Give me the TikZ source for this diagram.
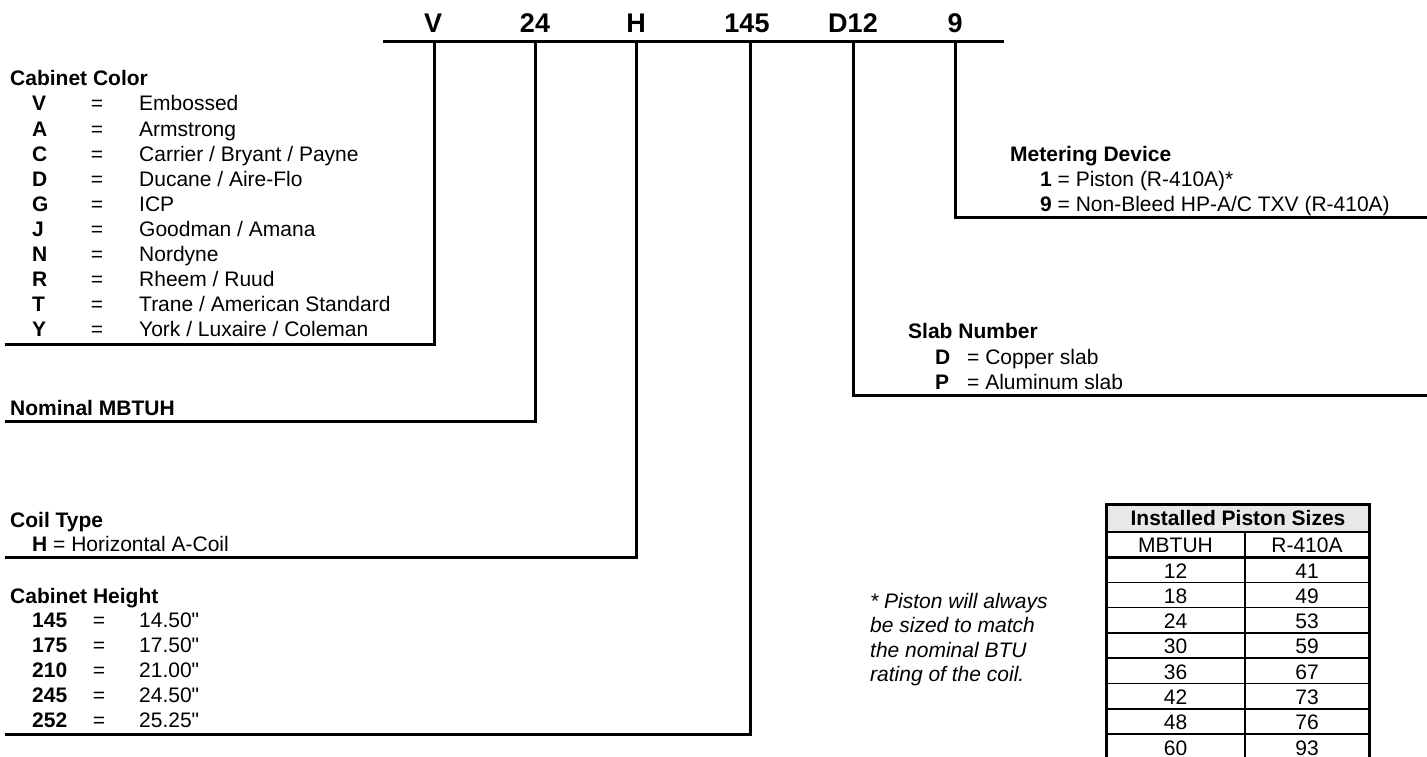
\documentclass[tikz,border=0pt]{standalone}
\usepackage{fontspec}
\setmainfont{Liberation Sans}[Ligatures=TeXOff]
\begin{document}
\begin{tikzpicture}[x=1pt,y=-1pt,
  txt/.style={inner sep=0, anchor=base west, font=\fontsize{21}{25}\selectfont},
  codetxt/.style={txt, font=\fontsize{21}{25}\selectfont\bfseries},
  eqtxt/.style={inner sep=0, anchor=base, font=\fontsize{21}{25}\selectfont},
  toplabel/.style={inner sep=0, anchor=base, font=\fontsize{27}{32}\selectfont\bfseries},
  notetxt/.style={txt, font=\fontsize{21}{25}\selectfont\itshape},
  cell/.style={inner sep=0, anchor=base, font=\fontsize{21}{25}\selectfont},
  rule/.style={line width=3pt},
  thinrule/.style={line width=1.5pt}]
\path[use as bounding box] (0,0) rectangle (1427,757);
\clip (0,0) rectangle (1427,757);

% top code labels
\node[toplabel] (tV) at (433,33) {V};
\node[toplabel] (t24) at (535,33) {24};
\node[toplabel] (tH) at (636,33) {H};
\node[toplabel] (t145) at (747,33) {145};
\node[toplabel] (tD) at (853,33) {D12};
\node[toplabel] (t9) at (955,33) {9};
\coordinate (barL) at (383,42);
\coordinate (barR) at (1004,42);
\draw[rule] (barL) -- (barR);

% connector start points on the bar
\coordinate (cV) at (434,42);
\coordinate (c24) at (535,42);
\coordinate (cH) at (636,42);
\coordinate (c145) at (750,42);
\coordinate (cD) at (853,42);
\coordinate (c9) at (955,42);
% connector end points
\coordinate (eV) at (5,344);
\coordinate (e24) at (5,421);
\coordinate (eH) at (5,557);
\coordinate (e145) at (5,734);
\coordinate (eD) at (1427,395);
\coordinate (e9) at (1427,217);
\draw[rule] (cV) |- (eV);
\draw[rule] (c24) |- (e24);
\draw[rule] (cH) |- (eH);
\draw[rule] (c145) |- (e145);
\draw[rule] (cD) |- (eD);
\draw[rule] (c9) |- (e9);

% Cabinet Color
\node[codetxt] (ccT) at (10,86) {Cabinet Color};
\node[codetxt] (cc1) at (32,111) {V};   \node[eqtxt] (cq1) at (97,111) {=};   \node[txt] (cd1) at (139,111) {Embossed};
\node[codetxt] (cc2) at (32,136.1) {A}; \node[eqtxt] (cq2) at (97,136.1) {=}; \node[txt] (cd2) at (139,136.1) {Armstrong};
\node[codetxt] (cc3) at (32,161.2) {C}; \node[eqtxt] (cq3) at (97,161.2) {=}; \node[txt] (cd3) at (139,161.2) {Carrier / Bryant / Payne};
\node[codetxt] (cc4) at (32,186.3) {D}; \node[eqtxt] (cq4) at (97,186.3) {=}; \node[txt] (cd4) at (139,186.3) {Ducane / Aire-Flo};
\node[codetxt] (cc5) at (32,211.4) {G}; \node[eqtxt] (cq5) at (97,211.4) {=}; \node[txt] (cd5) at (139,211.4) {ICP};
\node[codetxt] (cc6) at (32,236.5) {J}; \node[eqtxt] (cq6) at (97,236.5) {=}; \node[txt] (cd6) at (139,236.5) {Goodman / Amana};
\node[codetxt] (cc7) at (32,261.6) {N}; \node[eqtxt] (cq7) at (97,261.6) {=}; \node[txt] (cd7) at (139,261.6) {Nordyne};
\node[codetxt] (cc8) at (32,286.7) {R}; \node[eqtxt] (cq8) at (97,286.7) {=}; \node[txt] (cd8) at (139,286.7) {Rheem / Ruud};
\node[codetxt] (cc9) at (32,311.8) {T}; \node[eqtxt] (cq9) at (97,311.8) {=}; \node[txt] (cd9) at (139,311.8) {Trane / American Standard};
\node[codetxt] (cc10) at (32,336.9) {Y}; \node[eqtxt] (cq10) at (97,336.9) {=}; \node[txt] (cd10) at (139,336.9) {York / Luxaire / Coleman};

% Nominal MBTUH
\node[codetxt] (nmT) at (10,415) {Nominal MBTUH};

% Coil Type
\node[codetxt] (ctT) at (10,527) {Coil Type};
\node[txt] (ct1) at (32,551) {\textbf{H} = Horizontal A-Coil};

% Cabinet Height
\node[codetxt] (chT) at (10,603) {Cabinet Height};
\node[codetxt] (ch1) at (32,627) {145}; \node[eqtxt] (chq1) at (99,627) {=}; \node[txt] (chd1) at (139,627) {14.50"};
\node[codetxt] (ch2) at (32,652) {175}; \node[eqtxt] (chq2) at (99,652) {=}; \node[txt] (chd2) at (139,652) {17.50"};
\node[codetxt] (ch3) at (32,677) {210}; \node[eqtxt] (chq3) at (99,677) {=}; \node[txt] (chd3) at (139,677) {21.00"};
\node[codetxt] (ch4) at (32,702) {245}; \node[eqtxt] (chq4) at (99,702) {=}; \node[txt] (chd4) at (139,702) {24.50"};
\node[codetxt] (ch5) at (32,727) {252}; \node[eqtxt] (chq5) at (99,727) {=}; \node[txt] (chd5) at (139,727) {25.25"};

% Metering Device
\node[codetxt] (mdT) at (1010,161) {Metering Device};
\node[txt] (md1) at (1040,186) {\textbf{1} = Piston (R-410A)*};
\node[txt] (md2) at (1040,211) {\textbf{9} = Non-Bleed HP-A/C TXV (R-410A)};

% Slab Number
\node[codetxt] (snT) at (908,338) {Slab Number};
\node[codetxt] (sn1) at (935,364) {D}; \node[txt] (snd1) at (967,364) {= Copper slab};
\node[codetxt] (sn2) at (935,389) {P}; \node[txt] (snd2) at (967,389) {= Aluminum slab};

% Footnote
\node[notetxt] (fn1) at (870,608) {* Piston will always};
\node[notetxt] (fn2) at (870,632.5) {be sized to match};
\node[notetxt] (fn3) at (870,657) {the nominal BTU};
\node[notetxt] (fn4) at (870,681.5) {rating of the coil.};

% Table
\fill[gray!18] (1106,504) rectangle (1369,532);
\foreach \yy in {532,582.3,607.6,632.9,658.2,683.5,708.8,734.1}
  \draw[thinrule] (1106,\yy) -- (1369,\yy);
\draw[thinrule] (1245,532) -- (1245,762);
\draw[rule] (1106,557) -- (1369,557);
\draw[rule] (1106,762) -- (1106,504) -- (1369,504) -- (1369,762);
\node[cell, font=\fontsize{21}{25}\selectfont\bfseries] (th) at (1238,525) {Installed Piston Sizes};
\node[cell] (h1) at (1175.5,552) {MBTUH};
\node[cell] (h2) at (1307,552) {R-410A};
\node[cell] (r1a) at (1175.5,578) {12}; \node[cell] (r1b) at (1307,578) {41};
\node[cell] (r2a) at (1175.5,603.3) {18}; \node[cell] (r2b) at (1307,603.3) {49};
\node[cell] (r3a) at (1175.5,628.6) {24}; \node[cell] (r3b) at (1307,628.6) {53};
\node[cell] (r4a) at (1175.5,653.9) {30}; \node[cell] (r4b) at (1307,653.9) {59};
\node[cell] (r5a) at (1175.5,679.2) {36}; \node[cell] (r5b) at (1307,679.2) {67};
\node[cell] (r6a) at (1175.5,704.5) {42}; \node[cell] (r6b) at (1307,704.5) {73};
\node[cell] (r7a) at (1175.5,729.8) {48}; \node[cell] (r7b) at (1307,729.8) {76};
\node[cell] (r8a) at (1175.5,755.1) {60}; \node[cell] (r8b) at (1307,755.1) {93};
\end{tikzpicture}
\end{document}
